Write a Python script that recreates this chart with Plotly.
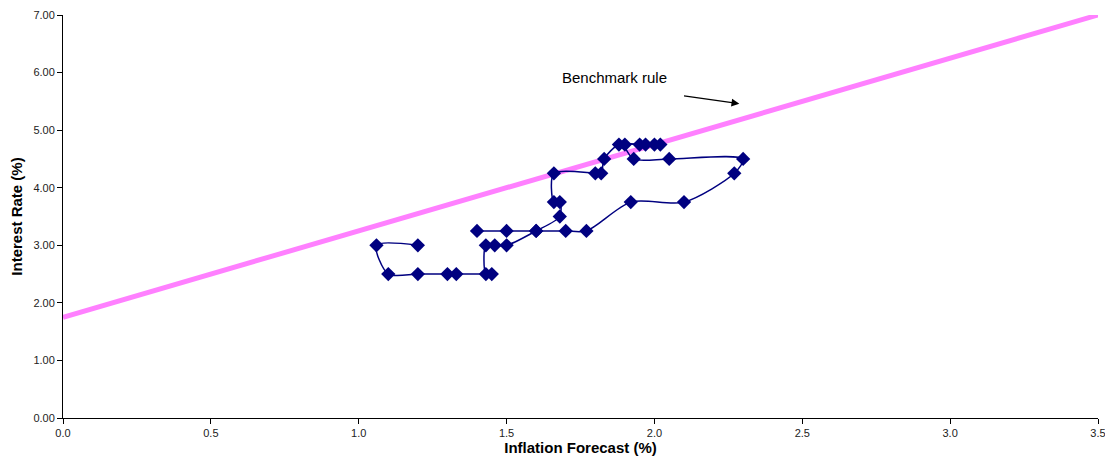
import plotly.graph_objects as go

# Path of (inflation forecast, interest rate) observations
inflation = [1.20, 1.06, 1.10, 1.20, 1.30, 1.33, 1.45, 1.43, 1.43, 1.46, 1.50,
             1.60, 1.68, 1.68, 1.66, 1.66, 1.80, 1.82, 1.83, 1.88, 1.95, 2.02,
             2.00, 1.97, 1.90, 1.93, 2.05, 2.30, 2.27, 2.10, 1.92, 1.77, 1.70,
             1.60, 1.50, 1.40]
rate = [3.00, 3.00, 2.50, 2.50, 2.50, 2.50, 2.50, 2.50, 3.00, 3.00, 3.00,
        3.25, 3.50, 3.75, 3.75, 4.25, 4.25, 4.25, 4.50, 4.75, 4.75, 4.75,
        4.75, 4.75, 4.75, 4.50, 4.50, 4.50, 4.25, 3.75, 3.75, 3.25, 3.25,
        3.25, 3.25, 3.25]

# Benchmark rule line: rate = 1.75 + 1.5 * inflation
bench_x = [0.0, 3.5]
bench_y = [1.75, 7.0]

x_ticks = [0.0, 0.5, 1.0, 1.5, 2.0, 2.5, 3.0, 3.5]
y_ticks = [0, 1, 2, 3, 4, 5, 6, 7]

fig = go.Figure()
fig.add_trace(go.Scatter(x=bench_x, y=bench_y, mode="lines",
                         line=dict(color="#FF80FF", width=5),
                         showlegend=False, hoverinfo="skip", cliponaxis=False))
fig.add_trace(go.Scatter(x=inflation, y=rate, mode="lines+markers",
                         line=dict(color="#000080", width=1.5, shape="spline", smoothing=0.8),
                         marker=dict(symbol="diamond", size=11, color="#000080"),
                         showlegend=False))

fig.add_annotation(x=2.287, y=5.46, ax=2.095, ay=5.60, xref="x", yref="y",
                   axref="x", ayref="y", text="", showarrow=True,
                   arrowhead=2, arrowsize=1.3, arrowwidth=1.2, arrowcolor="black")
fig.add_annotation(x=1.865, y=5.92, xref="x", yref="y", text="Benchmark rule",
                   showarrow=False, font=dict(size=15, color="black"))

fig.update_layout(
    width=1105, height=460,
    margin=dict(l=55, r=15, t=7, b=50, autoexpand=False),
    plot_bgcolor="white", paper_bgcolor="white",
    font=dict(family="Liberation Sans, Arial, sans-serif", color="black"),
)
fig.update_xaxes(range=[0, 3.5], tickvals=x_ticks,
                 ticktext=[f"{v:.1f}" for v in x_ticks],
                 showline=True, linecolor="black", linewidth=1,
                 ticks="outside", ticklen=5, tickcolor="black",
                 showgrid=False, zeroline=False, automargin=False,
                 ticklabeloverflow="allow",
                 tickfont=dict(size=11, color="#222"),
                 title=dict(text="<b>Inflation Forecast (%)</b>", font=dict(size=15), standoff=4))
fig.update_yaxes(range=[0, 7], tickvals=y_ticks,
                 ticktext=[f"{v:.2f}" for v in y_ticks],
                 showline=True, linecolor="black", linewidth=1,
                 ticks="outside", ticklen=5, tickcolor="black",
                 showgrid=False, zeroline=False, automargin=False,
                 ticklabeloverflow="allow",
                 tickfont=dict(size=11, color="#222"),
                 title=dict(text="<b>Interest Rate (%)</b>", font=dict(size=15), standoff=8))

fig.write_html("out.html")
